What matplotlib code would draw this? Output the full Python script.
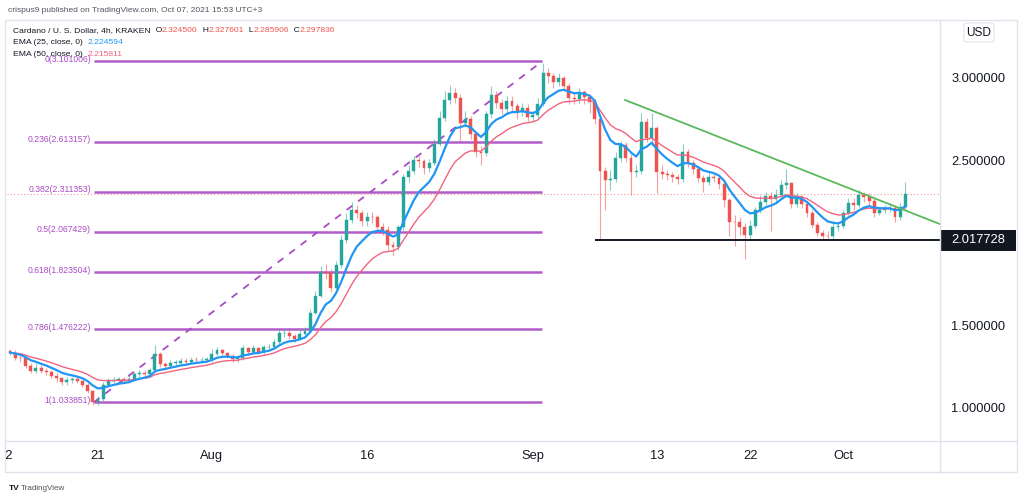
import numpy as np
import pandas as pd
import matplotlib
matplotlib.use('Agg')
import matplotlib.pyplot as plt
import matplotlib.dates as mdates
from matplotlib.patches import Rectangle, FancyBboxPatch
from matplotlib.lines import Line2D
from matplotlib.transforms import Bbox, TransformedBbox, blended_transform_factory

plt.rcParams['font.family'] = ['Liberation Sans', 'DejaVu Sans']

# ---------------- data (12h candles) ----------------
first_candle = '2021-07-12 12:00'
first_open = 1.345
closes = [1.336, 1.305, 1.300, 1.253, 1.222, 1.245, 1.224, 1.217, 1.192, 1.181,
          1.155, 1.170, 1.173, 1.163, 1.142, 1.101, 1.038, 1.053, 1.139, 1.165,
          1.170, 1.175, 1.165, 1.178, 1.207, 1.212, 1.208, 1.228, 1.327, 1.265,
          1.256, 1.273, 1.274, 1.284, 1.279, 1.292, 1.289, 1.293, 1.294, 1.329,
          1.352, 1.332, 1.316, 1.296, 1.303, 1.361, 1.339, 1.361, 1.342, 1.367,
          1.370, 1.403, 1.452, 1.456, 1.438, 1.417, 1.450, 1.469, 1.578, 1.681,
          1.823, 1.819, 1.730, 1.867, 2.018, 2.141, 2.201, 2.184, 2.133, 2.158,
          2.155, 2.098, 2.081, 1.987, 1.975, 2.097, 2.400, 2.434, 2.500, 2.496,
          2.452, 2.482, 2.602, 2.758, 2.865, 2.912, 2.879, 2.727, 2.753, 2.658,
          2.554, 2.545, 2.782, 2.898, 2.848, 2.810, 2.860, 2.832, 2.795, 2.819,
          2.764, 2.773, 2.840, 3.030, 3.011, 2.973, 2.997, 2.950, 2.877, 2.872,
          2.916, 2.882, 2.853, 2.752, 2.436, 2.382, 2.390, 2.513, 2.594, 2.516,
          2.428, 2.434, 2.733, 2.636, 2.697, 2.430, 2.416, 2.412, 2.400, 2.388,
          2.550, 2.486, 2.447, 2.396, 2.367, 2.402, 2.394, 2.355, 2.261, 2.130,
          2.125, 2.097, 2.048, 2.103, 2.200, 2.250, 2.284, 2.264, 2.291, 2.354,
          2.362, 2.236, 2.277, 2.235, 2.182, 2.110, 2.063, 2.045, 2.040, 2.096,
          2.101, 2.182, 2.240, 2.233, 2.289, 2.279, 2.255, 2.184, 2.198, 2.207,
          2.211, 2.155, 2.218, 2.298]
highs = [1.36, 1.35, 1.33, 1.31, 1.27, 1.27, 1.26, 1.24, 1.23, 1.21,
         1.19, 1.19, 1.19, 1.19, 1.17, 1.15, 1.11, 1.07, 1.16, 1.18,
         1.19, 1.19, 1.19, 1.20, 1.22, 1.23, 1.23, 1.24, 1.38, 1.34,
         1.28, 1.29, 1.29, 1.30, 1.30, 1.31, 1.31, 1.31, 1.31, 1.36,
         1.37, 1.36, 1.34, 1.33, 1.32, 1.38, 1.37, 1.38, 1.37, 1.38,
         1.39, 1.42, 1.48, 1.48, 1.47, 1.45, 1.48, 1.49, 1.60, 1.71,
         1.86, 1.87, 1.84, 1.89, 2.05, 2.18, 2.25, 2.23, 2.20, 2.19,
         2.19, 2.17, 2.12, 2.10, 2.01, 2.11, 2.42, 2.47, 2.53, 2.53,
         2.51, 2.51, 2.63, 2.80, 2.92, 2.96, 2.94, 2.90, 2.80, 2.77,
         2.67, 2.59, 2.80, 2.95, 2.92, 2.87, 2.89, 2.89, 2.85, 2.85,
         2.84, 2.80, 2.88, 3.09, 3.06, 3.03, 3.03, 3.01, 2.97, 2.91,
         2.94, 2.93, 2.90, 2.87, 2.77, 2.46, 2.44, 2.55, 2.62, 2.61,
         2.54, 2.47, 2.79, 2.76, 2.79, 2.71, 2.47, 2.44, 2.43, 2.42,
         2.60, 2.57, 2.50, 2.46, 2.41, 2.43, 2.42, 2.41, 2.37, 2.27,
         2.17, 2.16, 2.12, 2.14, 2.22, 2.29, 2.31, 2.31, 2.33, 2.38,
         2.45, 2.37, 2.30, 2.29, 2.25, 2.20, 2.13, 2.08, 2.07, 2.12,
         2.13, 2.20, 2.27, 2.27, 2.32, 2.31, 2.30, 2.27, 2.22, 2.23,
         2.24, 2.23, 2.24, 2.37]
lows = [1.32, 1.29, 1.28, 1.24, 1.21, 1.21, 1.21, 1.20, 1.18, 1.16,
        1.14, 1.14, 1.15, 1.15, 1.13, 1.09, 1.02, 1.02, 1.04, 1.13,
        1.15, 1.16, 1.15, 1.15, 1.17, 1.19, 1.19, 1.20, 1.22, 1.25,
        1.24, 1.24, 1.26, 1.26, 1.26, 1.27, 1.27, 1.27, 1.28, 1.28,
        1.32, 1.32, 1.30, 1.28, 1.28, 1.29, 1.32, 1.33, 1.33, 1.33,
        1.35, 1.36, 1.39, 1.43, 1.42, 1.40, 1.41, 1.44, 1.46, 1.57,
        1.67, 1.78, 1.70, 1.72, 1.85, 2.00, 2.12, 2.15, 2.10, 2.10,
        2.12, 2.07, 2.05, 1.96, 1.93, 1.96, 2.08, 2.37, 2.42, 2.46,
        2.42, 2.43, 2.47, 2.59, 2.74, 2.84, 2.85, 2.62, 2.70, 2.63,
        2.52, 2.47, 2.53, 2.76, 2.82, 2.78, 2.79, 2.80, 2.75, 2.77,
        2.74, 2.74, 2.76, 2.83, 2.97, 2.94, 2.95, 2.92, 2.84, 2.84,
        2.85, 2.84, 2.79, 2.72, 2.018, 2.20, 2.32, 2.37, 2.49, 2.49,
        2.29, 2.40, 2.42, 2.61, 2.59, 2.30, 2.39, 2.38, 2.37, 2.36,
        2.37, 2.46, 2.42, 2.37, 2.31, 2.35, 2.37, 2.33, 2.22, 2.04,
        1.98, 2.05, 1.905, 2.02, 2.09, 2.18, 2.23, 2.07, 2.25, 2.28,
        2.33, 2.21, 2.22, 2.21, 2.16, 2.09, 2.04, 2.02, 2.02, 2.02,
        2.07, 2.09, 2.17, 2.20, 2.22, 2.25, 2.23, 2.16, 2.17, 2.18,
        2.19, 2.13, 2.14, 2.20]

# fibonacci retracement
fib_ratios = [0, 0.236, 0.382, 0.5, 0.618, 0.786, 1]
fib_prices = [3.101006, 2.613157, 2.311353, 2.067429, 1.823504, 1.476222, 1.033851]
fib_start = '2021-07-20 14:00'
fib_end = '2021-09-01 22:00'

# drawn lines
support_price = 2.017728
support_start = '2021-09-07 00:00'
trend_dates = ['2021-09-09 22:00', '2021-10-10 08:00']
trend_prices = [2.867, 2.115]
last_price = 2.297836

# axes
x_tick_dates = ['2021-07-12', '2021-07-21', '2021-08-01', '2021-08-16', '2021-09-01',
                '2021-09-13', '2021-09-22', '2021-10-01']
x_tick_labels = ['12', '21', 'Aug', '16', 'Sep', '13', '22', 'Oct']
y_tick_vals = [1.0, 1.5, 2.5, 3.0]
y_tick_labels = ['1.000000', '1.500000', '2.500000', '3.000000']
x_view = ['2021-07-12 05:00', '2021-10-10 08:24']
y_view = [0.80, 3.3515]

# legend text
title = 'Cardano / U. S. Dollar, 4h, KRAKEN'
ohlc = [('O', '2.324500'), ('H', '2.327601'), ('L', '2.285906'), ('C', '2.297836')]
ema25_val = '2.224594'
ema50_val = '2.215811'

# ---------------- figure ----------------
W, H = 1024, 497
fig = plt.figure(figsize=(W / 100, H / 100), dpi=100)
fig.patch.set_facecolor('white')

def fx(px):
    return px / W

def fy(py):
    return 1 - py / H

ax_l, ax_r, ax_t, ax_b = 7, 940, 20, 441
ax = fig.add_axes([fx(ax_l), fy(ax_b), fx(ax_r - ax_l), (ax_b - ax_t) / H])
ax.set_facecolor('white')
for s in ax.spines.values():
    s.set_visible(False)

UP, DOWN = '#26a69a', '#ef5350'
FIB = '#a94bc4'

dates = pd.date_range(first_candle, periods=len(closes), freq='12h')
xd = mdates.date2num(dates.to_pydatetime())
opens = [first_open] + closes[:-1]
cols = [UP if c >= o else DOWN for o, c in zip(opens, closes)]

# EMAs (4h EMA25 / EMA50 expressed on 12h bars)
cs = pd.Series(closes)
ema25 = cs.ewm(span=25 / 3, adjust=False).mean()
ema50 = cs.ewm(span=50 / 3, adjust=False).mean()

# current price line
ax.axhline(last_price, color=DOWN, lw=0.8, ls=(0, (1, 2)), alpha=0.6, zorder=1)

# fib levels
fs, fe = mdates.date2num(pd.Timestamp(fib_start)), mdates.date2num(pd.Timestamp(fib_end))
for r, p in zip(fib_ratios, fib_prices):
    ax.hlines(p, fs, fe, color=FIB, lw=1.8, alpha=0.9, zorder=2)
    ax.annotate(f'{r:g}({p:.6f})', xy=(fs, p), xytext=(-2, 1.5), textcoords='offset points',
                ha='right', va='center', color=FIB, fontsize=6.2, annotation_clip=False, zorder=2)
ax.plot([fs, fe], [fib_prices[-1], fib_prices[0]], color=FIB, lw=1.3, ls=(0, (4, 4)), zorder=2)

# candles
ax.vlines(xd, lows, highs, colors=cols, lw=0.8, alpha=0.55, zorder=3)
bottoms = [min(o, c) for o, c in zip(opens, closes)]
heights = [max(abs(c - o), 0.004) for o, c in zip(opens, closes)]
ax.bar(xd, heights, bottom=bottoms, width=0.28, color=cols, edgecolor=cols, lw=0.3, zorder=4)

# EMAs
ax.plot(xd, ema50, color='#f2637f', lw=1.0, zorder=5)
ax.plot(xd, ema25, color='#2196f3', lw=1.6, zorder=6)

# support line
ss = mdates.date2num(pd.Timestamp(support_start))
xv = [mdates.date2num(pd.Timestamp(d)) for d in x_view]
ax.hlines(support_price, ss, xv[1], color='#131722', lw=1.4, zorder=7)

# trend line
td = [mdates.date2num(pd.Timestamp(d)) for d in trend_dates]
ax.plot(td, trend_prices, color='#5cb85c', lw=1.3, zorder=7)

ax.set_xlim(xv)
ax.set_ylim(y_view)

# y axis on the right
ax.yaxis.tick_right()
ax.set_yticks(y_tick_vals)
ax.set_yticklabels(y_tick_labels)
ax.tick_params(axis='y', length=0, pad=8, labelsize=9.3, labelcolor='#131722')

# x axis labels
ax.set_xticks([])
trans_x = blended_transform_factory(ax.transData, fig.transFigure)
clipbox = TransformedBbox(Bbox([[fx(6), 0], [1, 1]]), fig.transFigure)
for d, lab in zip(x_tick_dates, x_tick_labels):
    t = fig.text(mdates.date2num(pd.Timestamp(d)), fy(456), lab, transform=trans_x,
                 ha='center', va='center', fontsize=9.3, color='#131722')
    t.set_clip_box(clipbox)
    t.set_clip_on(True)

# price label box for support
ytr = blended_transform_factory(fig.transFigure, ax.transData)
box_h = 21 / 165
ax.add_patch(Rectangle((fx(940), support_price - box_h / 2), fx(76), box_h, transform=ytr,
                       facecolor='#131722', edgecolor='none', clip_on=False, zorder=10))
ax.text(fx(978), support_price, f'{support_price:.6f}', transform=ytr, ha='center', va='center',
        color='white', fontsize=9.3, zorder=11, clip_on=False)

# frame lines
grey = '#e0e3eb'
fig.add_artist(Rectangle((fx(5), fy(472)), fx(1017 - 5), (472 - 20) / H, transform=fig.transFigure,
                         fill=False, edgecolor=grey, lw=1))
fig.add_artist(Line2D([fx(940), fx(940)], [fy(20), fy(472)], transform=fig.transFigure, color=grey, lw=1))
fig.add_artist(Line2D([fx(5), fx(1017)], [fy(441), fy(441)], transform=fig.transFigure, color=grey, lw=1))

# USD box
fig.add_artist(FancyBboxPatch((fx(966), fy(41)), fx(26), 17 / H, boxstyle='round,pad=0.002,rounding_size=0.004',
                              transform=fig.transFigure, facecolor='white', edgecolor=grey, lw=0.8))
fig.text(fx(979), fy(32.5), 'USD', ha='center', va='center', fontsize=8.6, color='#131722')

# header
fig.text(fx(8), fy(10), 'crispus9 published on TradingView.com, Oct 07, 2021 15:53 UTC+3',
         ha='left', va='center', fontsize=6.0, color='#50535e')

renderer = fig.canvas.get_renderer()

def chain(x_px, y_px, parts, size):
    x = fx(x_px)
    for s, c in parts:
        t = fig.text(x, fy(y_px), s, ha='left', va='center', fontsize=size, color=c)
        bb = t.get_window_extent(renderer)
        x = bb.x1 / W

dark = '#131722'
parts = [(title, dark)]
for k, v in ohlc:
    parts += [('  ' + k, dark), (v, DOWN)]
chain(13, 30.5, parts, 6.1)
chain(13, 42.5, [('EMA (25, close, 0)  ', dark), (ema25_val, '#2196f3')], 6.1)
chain(13, 54, [('EMA (50, close, 0)  ', dark), (ema50_val, '#f2637f')], 6.1)

# footer logo
fig.text(fx(9), fy(488), 'TV', ha='left', va='center', fontsize=6, fontweight='bold', color='#131722')
fig.text(fx(21), fy(488), 'TradingView', ha='left', va='center', fontsize=5.8, color='#50535e')

fig.savefig('out.png', dpi=100, facecolor='white')
